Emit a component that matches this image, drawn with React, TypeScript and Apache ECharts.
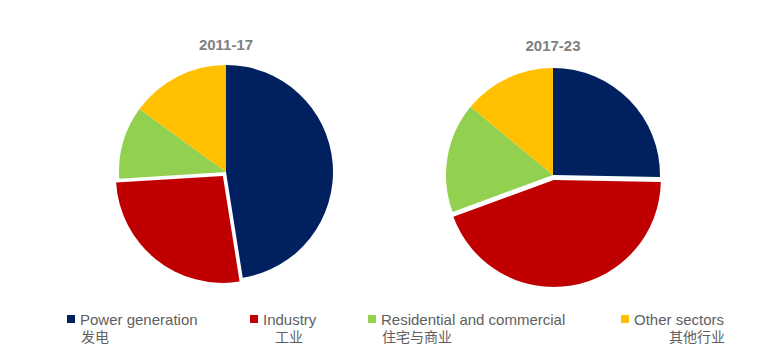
import React, { useEffect, useRef } from "react";
import * as echarts from "echarts";

const categories = ["Power generation", "Industry", "Residential and commercial", "Other sectors"];
const categoriesZh = ["发电", "工业", "住宅与商业", "其他行业"];
const colors = ["#002060", "#C00000", "#92D050", "#FFC000"];
const period1 = "2011-17";
const period2 = "2017-23";
const values1 = [47.5, 26.5, 11, 15];
const values2 = [25.3, 44.1, 16.6, 14];

const legendLeft = [67, 250, 368, 621];
const zhPos: { x: number; align: "left" | "center" | "right" }[] = [
  { x: 81, align: "left" },
  { x: 289, align: "center" },
  { x: 382, align: "left" },
  { x: 725, align: "right" },
];

function makeData(vals: number[]) {
  return vals.map((v, i) => ({
    name: categories[i],
    value: v,
    selected: i === 1,
    itemStyle: { color: colors[i] },
    select: { itemStyle: { color: colors[i], borderWidth: 0 } },
  }));
}

export default function App() {
  const ref = useRef<HTMLDivElement>(null);
  useEffect(() => {
    if (!ref.current) return;
    const chart = echarts.init(ref.current, null, { renderer: "svg" });
    const titleStyle = {
      fontFamily: "Liberation Sans, Arial, sans-serif",
      fontSize: 15,
      fontWeight: "bold" as const,
      color: "#808080",
    };
    const pieBase = {
      type: "pie" as const,
      radius: 107,
      startAngle: 90,
      clockwise: true,
      selectedMode: "single" as const,
      selectedOffset: 5,
      label: { show: false },
      labelLine: { show: false },
      emphasis: { disabled: true },
      silent: true,
    };
    chart.setOption({
      animation: false,
      backgroundColor: "#ffffff",
      title: [
        { text: period1, left: 226, top: 37, textAlign: "center", textStyle: titleStyle, padding: 0 },
        { text: period2, left: 553, top: 38, textAlign: "center", textStyle: titleStyle, padding: 0 },
      ],
      legend: categories.map((c, i) => ({
        data: [c],
        left: legendLeft[i],
        top: 311,
        padding: 0,
        icon: "rect",
        itemWidth: 8,
        itemHeight: 8,
        selectedMode: false,
        textStyle: {
          fontFamily: "Liberation Sans, Arial, sans-serif",
          fontSize: 15,
          color: "#606060",
          lineHeight: 16,
        },
      })),
      graphic: categoriesZh.map((t, i) => ({
        type: "text",
        x: zhPos[i].x,
        y: 336,
        style: {
          text: t,
          fill: "#606060",
          font: '14px "Noto Sans CJK SC", sans-serif',
          textAlign: zhPos[i].align,
          textVerticalAlign: "middle",
        },
      })),
      series: [
        { ...pieBase, name: period1, center: [226, 172], data: makeData(values1) },
        { ...pieBase, name: period2, center: [553, 175], data: makeData(values2) },
      ],
    });
    return () => chart.dispose();
  }, []);
  return (
    <div
      ref={ref}
      style={{ position: "fixed", left: 0, top: 0, width: 773, height: 361 }}
    />
  );
}
